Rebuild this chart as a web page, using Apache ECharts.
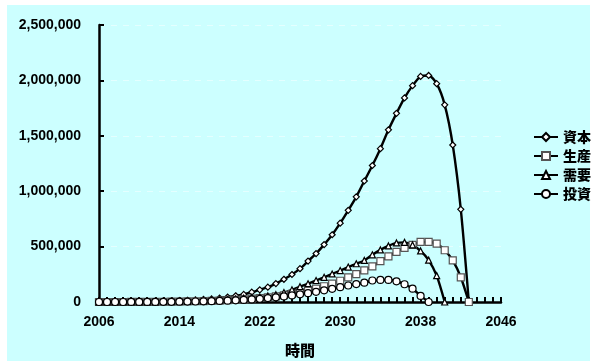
<!DOCTYPE html>
<html>
<head>
<meta charset="utf-8">
<script src="https://cdn.jsdelivr.net/npm/echarts@6/dist/echarts.min.js"></script>
<style>
  html, body { margin: 0; padding: 0; background: #ffffff; }
  #wrap { position: relative; width: 594px; height: 363px; overflow: hidden; }
  #panel { position: absolute; left: 7px; top: 5px; width: 583px; height: 356px; background: #CCFFFF; }
  #chart { position: absolute; left: 0; top: 0; width: 594px; height: 363px; }
</style>
</head>
<body>
<div id="wrap">
  <div id="panel"></div>
  <div id="chart"></div>
</div>
<script>
// Time steps along the horizontal axis (0.8-year steps, labelled every 10th)
const periods = [
  '2006', '2006.8', '2007.6', '2008.4', '2009.2', '2010', '2010.8', '2011.6', '2012.4', '2013.2',
  '2014', '2014.8', '2015.6', '2016.4', '2017.2', '2018', '2018.8', '2019.6', '2020.4', '2021.2',
  '2022', '2022.8', '2023.6', '2024.4', '2025.2', '2026', '2026.8', '2027.6', '2028.4', '2029.2',
  '2030', '2030.8', '2031.6', '2032.4', '2033.2', '2034', '2034.8', '2035.6', '2036.4', '2037.2',
  '2038', '2038.8', '2039.6', '2040.4', '2041.2', '2042', '2042.8', '2043.6', '2044.4', '2045.2',
  '2046'
];

// 資本
const capital = [
  2000, 2500, 3000, 3600, 4400, 5300, 6400, 7800, 9400, 11000,
  13500, 16000, 19500, 23000, 28000, 35000, 44600, 56000, 68800, 89000,
  110000, 134000, 166000, 205000, 248000, 301000, 369000, 437000, 518000, 607000,
  711600, 827500, 949000, 1092000, 1232000, 1384000, 1553600, 1702700, 1842000, 1952700,
  2036000, 2044600, 1970500, 1779500, 1417000, 836600, 0
];

// 生産
const production = [
  0, 0, 0, 0, 500, 800, 1200, 1700, 2300, 3000,
  4000, 5200, 6600, 8300, 10500, 13000, 16000, 20000, 24500, 30000,
  36000, 43000, 51000, 61000, 73000, 87000, 103000, 121000, 142000, 165000,
  192000, 222000, 252000, 285000, 321000, 369000, 411000, 452000, 488000, 515000,
  542000, 542000, 527000, 467000, 375000, 223000, 0
];

// 需要
const demand = [
  0, 0, 0, 0, 500, 900, 1400, 2000, 2800, 3800,
  5000, 6500, 8500, 11000, 14000, 18000, 22500, 28000, 34500, 42000,
  45000, 55000, 66000, 86000, 110000, 138000, 165000, 194000, 223000, 253000,
  284000, 315000, 345000, 375000, 426000, 470000, 506000, 533000, 538000, 515000,
  461000, 378000, 238000, 0
];

// 投資
const investment = [
  0, 0, 0, 0, 300, 500, 800, 1100, 1500, 2000,
  2700, 3500, 4500, 5800, 7400, 9400, 12000, 15000, 19000, 23500,
  29000, 35000, 42000, 50000, 59000, 69000, 80000, 92000, 105000, 119000,
  134000, 149000, 162000, 174000, 194000, 199000, 199000, 187000, 160000, 120000,
  55000, 0
];

const yTicks = { min: 0, max: 2500000, step: 500000 };
const axisTitle = '時間';

const latinFont = '"Liberation Sans", Arial, sans-serif';
const cjkFont = '"Noto Sans CJK JP", "Liberation Sans", sans-serif';

function lineSeries(name, data, symbol, size, borderColor) {
  return {
    name: name,
    type: 'line',
    data: data,
    smooth: 0.25,
    symbol: symbol,
    symbolSize: size,
    showAllSymbol: true,
    lineStyle: { color: '#000000', width: 2.4 },
    itemStyle: { color: '#ffffff', borderColor: borderColor, borderWidth: 1.2 },
    emphasis: { disabled: true },
    animation: false
  };
}

const chart = echarts.init(document.getElementById('chart'), null, { renderer: 'canvas' });

chart.setOption({
  backgroundColor: 'transparent',
  animation: false,
  grid: { left: 99, right: 93, top: 25, bottom: 58, containLabel: false },
  legend: {
    orient: 'vertical',
    left: 533,
    top: 130,
    padding: 0,
    itemWidth: 24,
    itemHeight: 10,
    itemGap: 5,
    textStyle: { fontFamily: cjkFont, fontWeight: 900, fontSize: 14, color: '#000000' },
    data: ['資本', '生産', '需要', '投資']
  },
  xAxis: {
    type: 'category',
    data: periods,
    boundaryGap: false,
    name: axisTitle,
    nameLocation: 'middle',
    nameGap: 41,
    nameTextStyle: { fontFamily: cjkFont, fontWeight: 900, fontSize: 15, color: '#000000' },
    axisLine: { lineStyle: { color: '#000000', width: 2.5 } },
    axisTick: { show: true, inside: true, length: 5, interval: 0, lineStyle: { color: '#000000', width: 2 } },
    axisLabel: {
      interval: 9,
      margin: 13,
      fontFamily: latinFont, fontWeight: 'bold', fontSize: 14, color: '#000000'
    },
    splitLine: { show: false }
  },
  yAxis: {
    type: 'value',
    min: yTicks.min,
    max: yTicks.max,
    interval: yTicks.step,
    axisLine: { show: true, lineStyle: { color: '#000000', width: 2.5 } },
    axisTick: { show: true, inside: true, length: 5, lineStyle: { color: '#000000', width: 2 } },
    axisLabel: {
      margin: 18,
      fontFamily: latinFont, fontWeight: 'bold', fontSize: 14, color: '#000000',
      formatter: function (v) { return v.toLocaleString('en-US'); }
    },
    splitLine: { show: true, lineStyle: { color: '#E4FFFF', width: 1, type: [6, 6] } }
  },
  series: [
    lineSeries('資本', capital, 'diamond', 6, '#000000'),
    lineSeries('生産', production, 'rect', 7, '#555555'),
    lineSeries('需要', demand, 'triangle', 6, '#000000'),
    lineSeries('投資', investment, 'circle', 7, '#000000')
  ]
});
</script>
</body>
</html>
